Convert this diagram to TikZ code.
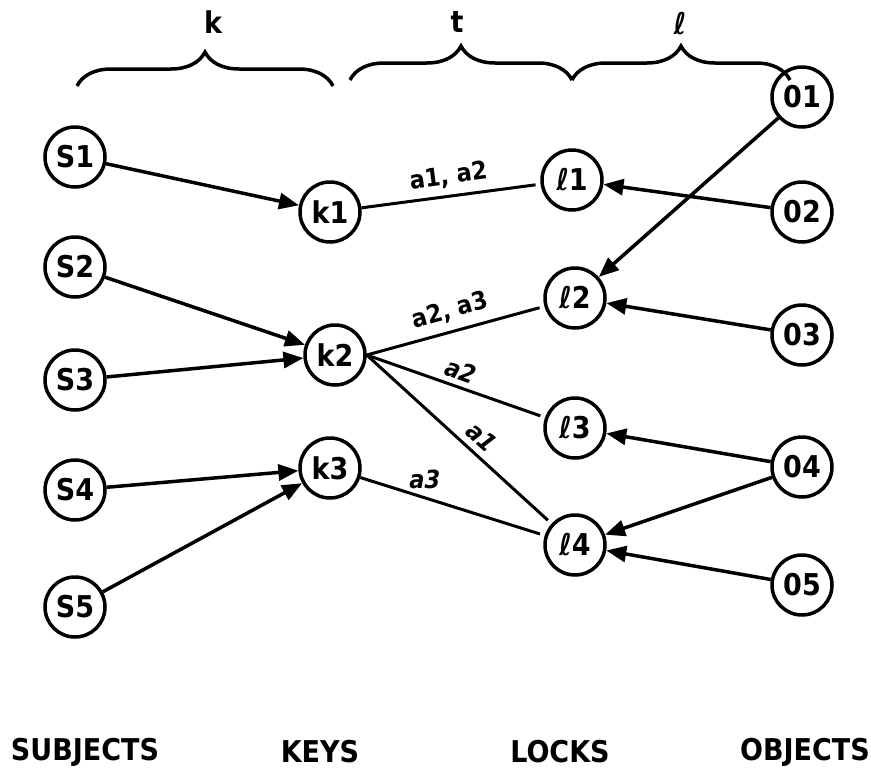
\documentclass[tikz,border=0pt]{standalone}
\usepackage{fontspec}
\setmainfont{DejaVu Sans Condensed}[BoldFont={DejaVu Sans Condensed Bold}]
\usetikzlibrary{arrows.meta,decorations.pathreplacing}
\begin{document}
\begin{tikzpicture}[x=1pt,y=-1pt,
  every node/.style={font=\bfseries\fontsize{30}{34}\selectfont},
  ent/.style={circle,draw,line width=3.5pt,minimum size=60pt,inner sep=0pt},
  arr/.style={line width=3.5pt,-{Triangle[length=20pt,width=16pt]}},
  ln/.style={line width=3pt,shorten >=5pt},
  brc/.style={line width=3.5pt,decorate,decoration={brace,amplitude=34pt}},
  lbl/.style={font=\bfseries\fontsize{25}{28}\selectfont,inner sep=0pt},
  ilbl/.style={font=\bfseries\itshape\fontsize{25}{28}\selectfont,inner sep=0pt}]
\useasboundingbox (0,0) rectangle (871,774);
% subjects
\node[ent] (S1) at (75,157) {S1};
\node[ent] (S2) at (75,267) {S2};
\node[ent] (S3) at (75,380) {S3};
\node[ent] (S4) at (75,490) {S4};
\node[ent] (S5) at (75,607) {S5};
% keys
\node[ent] (k1) at (330,212) {k1};
\node[ent] (k2) at (335,355) {k2};
\node[ent] (k3) at (330,468) {k3};
% locks
\node[ent] (l1) at (572,180) {ℓ1};
\node[ent] (l2) at (575,298) {ℓ2};
\node[ent] (l3) at (575,428) {ℓ3};
\node[ent] (l4) at (575,545) {ℓ4};
% objects
\node[ent] (O1) at (802,97) {01};
\node[ent] (O2) at (802,212) {02};
\node[ent] (O3) at (802,335) {03};
\node[ent] (O4) at (802,467) {04};
\node[ent] (O5) at (802,585) {05};
% subject -> key
\draw[arr] (S1) -- (k1);
\draw[arr] (S2) -- (k2);
\draw[arr] (S3) -- (k2);
\draw[arr] (S4) -- (k3);
\draw[arr] (S5) -- (k3);
% key -- lock
\draw[ln] (k1) -- (l1) node[lbl,midway,above=7pt,sloped] {a1, a2};
\draw[ln] (k2.east) -- (l2) node[lbl,midway,above=8pt,sloped] {a2, a3};
\draw[ln] (k2.east) -- (l3) node[ilbl,pos=0.5,above=5pt,sloped] {a2};
\draw[ln] (k2.east) -- (l4) node[ilbl,pos=0.56,above=6pt,sloped] {a1};
\draw[ln] (k3) -- (l4) node[ilbl,pos=0.35,above=7pt] {a3};
% object -> lock
\draw[arr] (O1) -- (l2);
\draw[arr] (O2) -- (l1);
\draw[arr] (O3) -- (l2);
\draw[arr] (O4) -- (l3);
\draw[arr] (O4) -- (l4);
\draw[arr] (O5) -- (l4);
% braces
\coordinate (b1) at (77,86);
\coordinate (b2) at (333,86);
\coordinate (b3) at (350,80);
\coordinate (b4) at (572,80);
\coordinate (b5) at (572,80);
\coordinate (b6) at (790,80);
\draw[brc] (b1) -- (b2);
\draw[brc] (b3) -- (b4);
\draw[brc] (b5) -- (b6);
\node (tk) at (213,22) {k};
\node (tt) at (457,22) {t};
\node (tl) at (680,24) {ℓ};
% bottom labels
\node (sub) at (85,752) {SUBJECTS};
\node (key) at (320,752) {KEYS};
\node (lock) at (560,752) {LOCKS};
\node (obj) at (805,752) {OBJECTS};
\end{tikzpicture}
\end{document}
